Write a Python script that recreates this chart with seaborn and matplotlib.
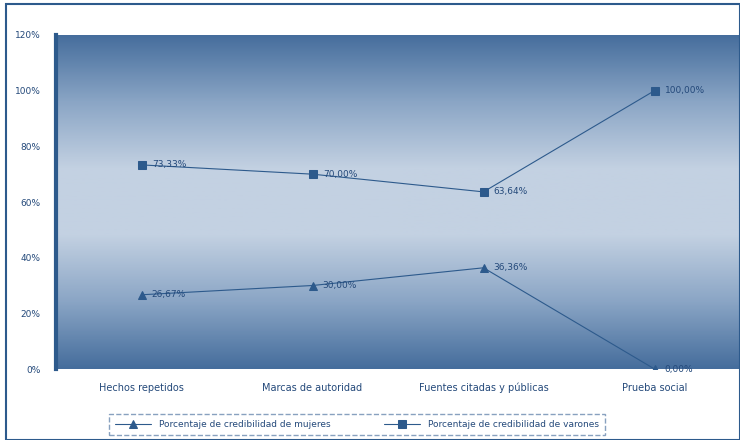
import numpy as np
import pandas as pd
import matplotlib
matplotlib.use("Agg")
import matplotlib.pyplot as plt
from matplotlib.colors import LinearSegmentedColormap
import seaborn as sns

# data
categorias = ["Hechos repetidos", "Marcas de autoridad", "Fuentes citadas y públicas", "Prueba social"]
serie_mujeres = [26.67, 30.00, 36.36, 0.00]
serie_varones = [73.33, 70.00, 63.64, 100.00]
nombres = ["Porcentaje de credibilidad de mujeres", "Porcentaje de credibilidad de varones"]
yticks = [0, 20, 40, 60, 80, 100, 120]

df = pd.DataFrame({
    "categoria": categorias * 2,
    "pos": list(range(len(categorias))) * 2,
    "valor": serie_mujeres + serie_varones,
    "serie": [nombres[0]] * 4 + [nombres[1]] * 4,
})

sns.set_style("white")
azul = "#2d5a8c"
texto = "#24497a"

fig = plt.figure(figsize=(7.4, 4.4), dpi=100)
ax = fig.add_axes([56 / 740, 71 / 440, 684 / 740, 334 / 440])

# banded gradient background, dark at top/bottom, pale in the middle
cmap = LinearSegmentedColormap.from_list("bg", ["#456d9c", "#8aa5c5", "#c3d1e2", "#c3d1e2", "#8aa5c5", "#456d9c"])
grad = np.linspace(0, 1, 256).reshape(-1, 1)
ax.imshow(grad, extent=[-0.5, 3.5, 0, 120], aspect="auto", cmap=cmap, zorder=0, origin="lower")

sns.lineplot(data=df, x="pos", y="valor", hue="serie", style="serie",
             markers={nombres[0]: "^", nombres[1]: "s"}, dashes=False,
             palette={nombres[0]: azul, nombres[1]: azul},
             linewidth=0.8, markersize=6, markeredgecolor=azul, ax=ax, zorder=3)

for serie in (serie_mujeres, serie_varones):
    for i, v in enumerate(serie):
        ax.text(i + 0.06, v, f"{v:.2f}%".replace(".", ","), color=texto, fontsize=6.5,
                va="center", ha="left", zorder=4)

ax.set_xlim(-0.5, 3.5)
ax.set_ylim(0, 120)
ax.set_xticks(range(len(categorias)))
ax.set_xticklabels(categorias, fontsize=7, color=texto)
ax.set_yticks(yticks)
ax.set_yticklabels([f"{t}%" for t in yticks], fontsize=6.5, color=texto)
ax.set_yticks(np.arange(0, 121, 5), minor=True)
ax.tick_params(axis="y", which="both", direction="out", length=3, color=azul, pad=8)
ax.tick_params(axis="x", length=0, pad=10)
ax.set_xlabel("")
ax.set_ylabel("")
for s in ["top", "right", "bottom"]:
    ax.spines[s].set_visible(False)
ax.spines["left"].set_color(azul)
ax.spines["left"].set_linewidth(3)

leg = ax.legend(loc="upper center", bbox_to_anchor=(0.44, -0.12), ncol=2, fontsize=6.5,
                frameon=True, fancybox=False, borderpad=0.7, columnspacing=6, handlelength=4)
leg.get_frame().set_edgecolor("#6b8ab0")
leg.get_frame().set_linestyle("--")
for t in leg.get_texts():
    t.set_color(texto)

# outer frame
fig.patches.append(plt.Rectangle((6 / 740, 0), 734 / 740, 436 / 440, transform=fig.transFigure,
                                 fill=False, edgecolor="#2d5a8c", linewidth=1.5))

fig.savefig("out.png", dpi=100)
